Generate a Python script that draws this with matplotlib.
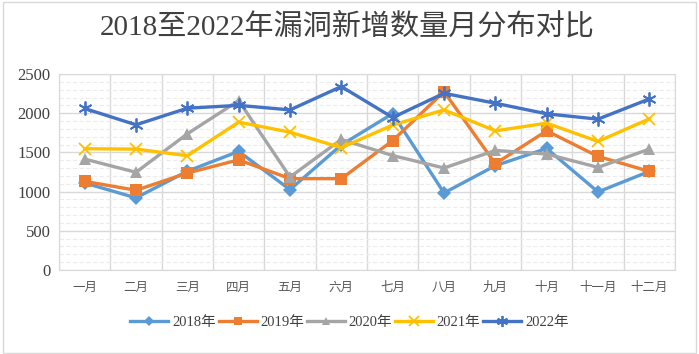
import matplotlib
matplotlib.use("Agg")
import matplotlib.pyplot as plt
from matplotlib.patches import Rectangle
from matplotlib.ticker import MultipleLocator

months = ["一月", "二月", "三月", "四月", "五月", "六月", "七月", "八月", "九月", "十月", "十一月", "十二月"]
s2018 = [1110, 920, 1260, 1513, 1025, 1595, 1995, 983, 1331, 1550, 996, 1258]
s2019 = [1131, 1017, 1237, 1405, 1165, 1165, 1650, 2275, 1356, 1775, 1449, 1258]
s2020 = [1415, 1246, 1737, 2160, 1186, 1665, 1460, 1301, 1525, 1479, 1309, 1542]
s2021 = [1547, 1542, 1458, 1886, 1758, 1560, 1849, 2042, 1775, 1873, 1640, 1928]
s2022 = [2060, 1852, 2064, 2100, 2042, 2340, 1945, 2254, 2127, 1992, 1924, 2182]
years = ["2018年", "2019年", "2020年", "2021年", "2022年"]

FONT = ["Liberation Serif", "Noto Sans CJK SC"]
plt.rcParams["font.family"] = FONT

fig = plt.figure(figsize=(6.99, 3.54), dpi=100)
fig.patches.append(Rectangle((0.004, 0.004), 0.992, 0.99, transform=fig.transFigure,
                             fill=False, edgecolor="#d9d9d9", linewidth=1.0))
ax = fig.add_axes([59/699, (354-270)/354, (675-59)/699, (270-74)/354])

x = list(range(len(months)))
series = [
    (s2018, "#5B9BD5", "D", 7),
    (s2019, "#ED7D31", "s", 8),
    (s2020, "#A5A5A5", "^", 8),
    (s2021, "#FFC000", "x", 9),
    (s2022, "#4472C4", (6, 2, 0), 10),
]
for (vals, col, mk, ms), lab in zip(series, years):
    kw = dict(markeredgewidth=1.3) if mk in ("x",) or isinstance(mk, tuple) else dict(markeredgewidth=0)
    ax.plot(x, vals, color=col, linewidth=2.4, marker=mk, markersize=ms,
            markerfacecolor=col, markeredgecolor=col, label=lab, zorder=3, **kw)

ax.set_xlim(-0.5, 11.5)
ax.set_ylim(0, 2500)
ax.yaxis.set_major_locator(MultipleLocator(500))
ax.yaxis.set_minor_locator(MultipleLocator(100))
ax.set_xticks(x)
ax.set_xticklabels(months, fontsize=9, color="#595959", family=["Noto Sans CJK SC"])
ax.set_xticks([i + 0.5 for i in range(-1, 12)], minor=True)
ax.tick_params(axis="x", which="both", length=0, pad=8)
ax.tick_params(axis="y", which="both", length=0, pad=6, labelsize=12, labelcolor="#404040")
ax.grid(axis="y", which="major", color="#d9d9d9", linewidth=1.0)
ax.grid(axis="y", which="minor", color="#ececec", linewidth=0.8, linestyle=(0, (4, 2)))
ax.grid(axis="x", which="minor", color="#d9d9d9", linewidth=1.0)
ax.grid(axis="x", which="major", visible=False)
for s in ax.spines.values():
    s.set_color("#d9d9d9")
ax.set_axisbelow(True)

fig.text(0.497, 0.925, "2018至2022年漏洞新增数量月分布对比", ha="center", va="center",
         fontsize=21, color="#404040", family=FONT)

leg = fig.legend(loc="center", bbox_to_anchor=(0.5, 0.09), ncol=5, frameon=False,
                 fontsize=10.5, handlelength=2.6, handletextpad=0.25, columnspacing=0.2,
                 labelcolor="#404040", markerscale=0.8)

fig.savefig("out.png", dpi=100)
